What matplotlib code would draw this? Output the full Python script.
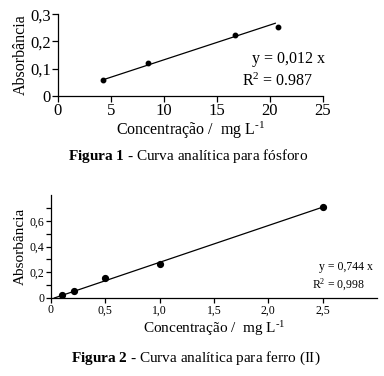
import matplotlib
matplotlib.use("Agg")
import matplotlib.pyplot as plt

plt.rcParams['font.family'] = ['Liberation Serif', 'DejaVu Serif']
plt.rcParams['mathtext.fontset'] = 'custom'
plt.rcParams['mathtext.rm'] = 'Liberation Serif'
plt.rcParams['mathtext.it'] = 'Liberation Serif:italic'
plt.rcParams['mathtext.bf'] = 'Liberation Serif:bold'

# Figure 1 - phosphorus
p_conc = [4.25, 8.5, 16.7, 20.8]
p_abs = [0.058, 0.121, 0.225, 0.254]
p_fit_x = [4.2, 20.5]
p_fit_y = [0.058, 0.267]
p_xticks = [0, 5, 10, 15, 20, 25]
p_yticks = [0, 0.1, 0.2, 0.3]
p_yticklabels = ['0', '0,1', '0,2', '0,3']

# Figure 2 - iron (II)
f_conc = [0.1, 0.21, 0.5, 1.0, 2.5]
f_abs = [0.024, 0.057, 0.155, 0.265, 0.703]
f_fit_x = [0.03, 2.48]
f_fit_y = [0.0, 0.70]
f_xticks = [0, 0.5, 1.0, 1.5, 2.0, 2.5]
f_xticklabels = ['0', '0,5', '1,0', '1,5', '2,0', '2,5']
f_yticks = [0, 0.2, 0.4, 0.6]
f_yticklabels = ['0', '0,2', '0,4', '0,6']
f_yminor = [0.1, 0.3, 0.5, 0.7]

W, H = 384, 376
fig = plt.figure(figsize=(W/100, H/100), dpi=100)

def box(l, t, r, b):
    return [l/W, 1-b/H, (r-l)/W, (b-t)/H]

XLABEL = 'Concentração /  mg L$^{\\mathregular{\u2010 1}}$'.replace('\u2010 ', '\u2010')

# ---- top chart
ax1 = fig.add_axes(box(58, 14.3, 323, 95.7))
ax1.plot(p_fit_x, p_fit_y, color='black', lw=0.9)
ax1.plot(p_conc, p_abs, 'o', color='black', ms=3.2)
ax1.set_xlim(0, 25)
ax1.set_ylim(0, 0.3)
ax1.set_xticks(p_xticks)
ax1.set_yticks(p_yticks)
ax1.set_yticklabels(p_yticklabels)
for s in ['top', 'right']:
    ax1.spines[s].set_visible(False)
for s in ['left', 'bottom']:
    ax1.spines[s].set_linewidth(0.9)
ax1.tick_params(labelsize=12, length=4, width=0.9, pad=1)
ax1.set_xlabel(XLABEL, fontsize=11.5, labelpad=1)
ax1.set_ylabel('Absorbância', fontsize=11.5, labelpad=1)
ax1.text(1.007, 0.45, 'y = 0,012 x', transform=ax1.transAxes, ha='right', va='center', fontsize=11.5)
ax1.text(0.962, 0.18, 'R$^{\\mathregular{2}}$ = 0.987', transform=ax1.transAxes, ha='right', va='center', fontsize=11.5)

fig.text(188/W, 1-156/H, r'$\mathbf{Figura\ 1}$ - Curva analítica para fósforo',
         ha='center', va='center', fontsize=11)

# ---- bottom chart
ax2 = fig.add_axes(box(51, 195, 377, 298))
ax2.plot(f_fit_x, f_fit_y, color='black', lw=0.9)
ax2.plot(f_conc, f_abs, 'o', color='black', ms=4.2)
ax2.set_xlim(0, 3.0)
ax2.set_ylim(0, 0.8)
ax2.set_xticks(f_xticks)
ax2.set_xticklabels(f_xticklabels)
ax2.set_yticks(f_yticks)
ax2.set_yticklabels(f_yticklabels)
ax2.set_yticks(f_yminor, minor=True)
for s in ['top', 'right']:
    ax2.spines[s].set_visible(False)
for s in ['left', 'bottom']:
    ax2.spines[s].set_linewidth(0.9)
ax2.tick_params(which='both', labelsize=8.5, length=3.5, width=0.9, pad=1)
ax2.set_xlabel(XLABEL, fontsize=11, labelpad=2)
ax2.set_ylabel('Absorbância', fontsize=11, labelpad=2)
ax2.text(0.987, 0.30, 'y = 0,744 x', transform=ax2.transAxes, ha='right', va='center', fontsize=8.5)
ax2.text(0.963, 0.125, 'R$^{\\mathregular{2}}$ = 0,998', transform=ax2.transAxes, ha='right', va='center', fontsize=8.5)

fig.text(196/W, 1-358/H, r'$\mathbf{Figura\ 2}$ - Curva analítica para ferro (II)',
         ha='center', va='center', fontsize=11)

fig.savefig('out.png', dpi=100)
